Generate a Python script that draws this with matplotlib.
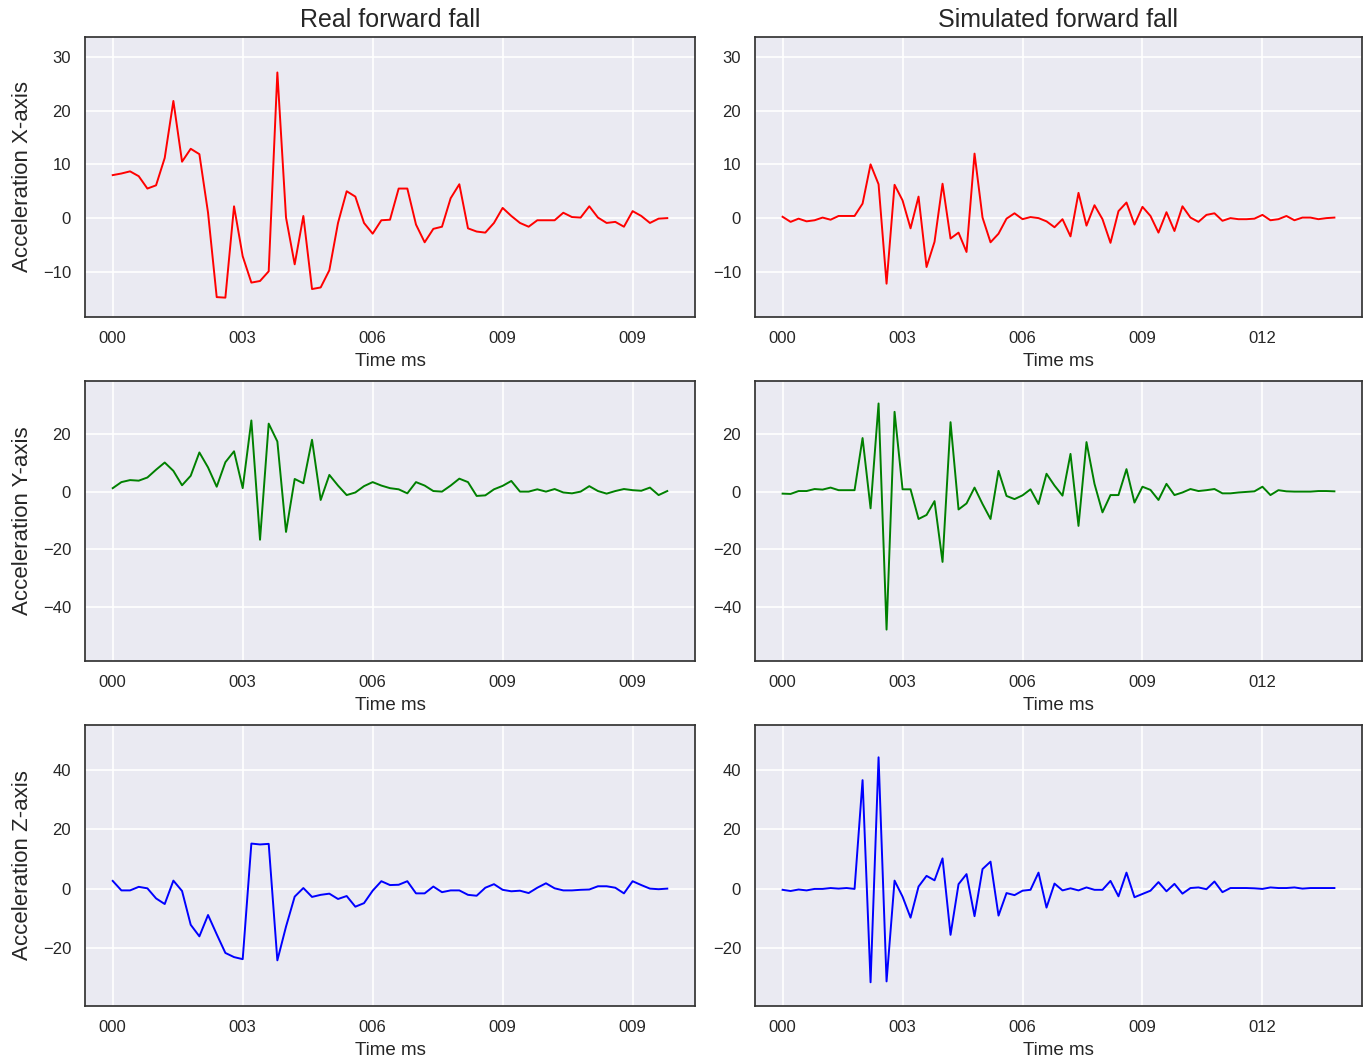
import matplotlib
matplotlib.use("Agg")
import matplotlib.pyplot as plt

# ---------------- data ----------------
real_x = [8.0, 8.3, 8.7, 7.8, 5.5, 6.1, 11.2, 21.8, 10.5, 12.9, 11.9, 1.0, -14.7, -14.8,
          2.2, -7.1, -12.0, -11.7, -9.9, 27.1, 0.1, -8.6, 0.4, -13.2, -12.9, -9.7, -0.9,
          5.0, 4.0, -0.9, -2.9, -0.4, -0.3, 5.5, 5.5, -1.2, -4.5, -2.0, -1.6, 3.7, 6.3,
          -1.9, -2.5, -2.7, -0.9, 1.9, 0.4, -0.9, -1.6, -0.4, -0.4, -0.4, 1.0, 0.2, 0.1,
          2.2, 0.1, -0.9, -0.7, -1.6, 1.3, 0.4, -0.9, -0.1, 0.0]
real_y = [1.2, 3.3, 4.0, 3.8, 4.9, 7.6, 10.1, 7.2, 2.2, 5.5, 13.6, 8.4, 1.7, 10.2, 14.0,
          1.2, 24.7, -16.7, 23.6, 17.4, -14.0, 4.4, 2.9, 18.0, -2.9, 5.8, 2.1, -1.2, -0.3,
          1.9, 3.3, 2.1, 1.2, 0.8, -0.6, 3.3, 2.1, 0.2, 0.0, 2.1, 4.5, 3.3, -1.5, -1.3,
          0.8, 2.0, 3.7, 0.0, 0.0, 0.8, 0.0, 0.9, -0.3, -0.6, 0.0, 1.9, 0.2, -0.7, 0.2,
          0.9, 0.5, 0.3, 1.4, -1.2, 0.2]
real_z = [2.6, -0.6, -0.6, 0.6, 0.1, -3.3, -5.2, 2.7, -0.8, -12.2, -16.1, -8.9, -15.4,
          -21.7, -23.1, -23.8, 15.2, 14.9, 15.1, -24.2, -12.8, -2.7, 0.2, -2.8, -2.1, -1.7,
          -3.5, -2.5, -6.1, -4.9, -0.7, 2.5, 1.2, 1.3, 2.5, -1.6, -1.6, 0.7, -1.2, -0.6,
          -0.6, -2.1, -2.4, 0.3, 1.5, -0.4, -0.9, -0.7, -1.5, 0.3, 1.8, 0.1, -0.6, -0.6,
          -0.4, -0.3, 0.8, 0.8, 0.3, -1.6, 2.5, 1.2, 0.0, -0.2, 0.0]

sim_x = [0.25, -0.7, -0.1, -0.6, -0.4, 0.1, -0.3, 0.4, 0.4, 0.4, 2.7, 10.0, 6.3, -12.2,
         6.2, 3.3, -1.9, 4.0, -9.1, -4.4, 6.4, -3.8, -2.7, -6.3, 12.0, 0.1, -4.5, -2.9,
         -0.1, 0.9, -0.2, 0.2, 0.0, -0.6, -1.7, -0.2, -3.4, 4.7, -1.4, 2.4, -0.2, -4.6,
         1.3, 2.9, -1.2, 2.1, 0.4, -2.7, 1.1, -2.4, 2.2, 0.1, -0.7, 0.6, 0.9, -0.5, 0.0,
         -0.2, -0.2, -0.1, 0.6, -0.4, -0.2, 0.4, -0.4, 0.1, 0.1, -0.2, 0.0, 0.1]
sim_y = [-0.7, -0.8, 0.2, 0.2, 0.9, 0.7, 1.4, 0.5, 0.5, 0.5, 18.6, -5.8, 30.6, -47.9,
         27.7, 0.8, 0.8, -9.5, -8.1, -3.3, -24.4, 24.1, -6.2, -4.1, 1.4, -4.3, -9.5, 7.2,
         -1.5, -2.6, -1.3, 0.8, -4.3, 6.2, 2.1, -1.4, 13.1, -11.9, 17.2, 2.7, -7.2, -1.2,
         -1.2, 7.8, -3.8, 1.7, 0.6, -2.9, 2.7, -1.2, -0.3, 0.9, 0.2, 0.5, 0.9, -0.6, -0.6,
         -0.3, -0.1, 0.1, 1.7, -1.2, 0.5, 0.1, 0.0, 0.0, 0.0, 0.2, 0.2, 0.1]
sim_z = [-0.4, -0.8, -0.3, -0.6, -0.1, -0.1, 0.2, 0.0, 0.2, -0.1, 36.6, -31.6, 44.3, -31.3,
         2.7, -2.7, -9.8, 0.7, 4.3, 2.8, 10.2, -15.6, 1.5, 4.9, -9.3, 6.6, 9.1, -9.1, -1.5,
         -2.2, -0.7, -0.4, 5.4, -6.4, 1.7, -0.6, 0.1, -0.6, 0.4, -0.4, -0.4, 2.6, -2.6, 5.4,
         -2.9, -1.8, -0.7, 2.2, -0.9, 1.6, -1.7, 0.2, 0.4, -0.2, 2.4, -1.2, 0.2, 0.2, 0.2,
         0.1, -0.1, 0.4, 0.2, 0.2, 0.4, 0.0, 0.2, 0.2, 0.2, 0.2]

col_titles = ["Real forward fall", "Simulated forward fall"]
row_labels = ["Acceleration X-axis", "Acceleration Y-axis", "Acceleration Z-axis"]
row_colors = ["red", "green", "blue"]
tick_pos = [0, 15, 30, 45, 60]
real_tick_labels = ["000", "003", "006", "009", "009"]
sim_tick_labels = ["000", "003", "006", "009", "012"]
row_yticks = [[-10, 0, 10, 20, 30], [-40, -20, 0, 20], [-20, 0, 20, 40]]
row_ylims = [(-18.4, 33.7), (-58.8, 38.4), (-39.6, 55.2)]
xlabel = "Time ms"

# ---------------- style ----------------
plt.rcParams.update({
    "font.family": ["Liberation Sans", "DejaVu Sans"],
    "axes.facecolor": "#EAEAF2",
    "axes.edgecolor": "#333333",
    "axes.linewidth": 1.25,
    "grid.color": "white",
    "grid.linewidth": 1.2,
    "text.color": "#262626",
    "axes.labelcolor": "#262626",
    "xtick.color": "#262626",
    "ytick.color": "#262626",
})

W, H = 1363, 1057
fig = plt.figure(figsize=(W / 100, H / 100), dpi=100)

col_px = [(85, 695), (755, 1362)]
row_px = [(37, 317), (381, 661), (725, 1006)]

data = [[real_x, sim_x], [real_y, sim_y], [real_z, sim_z]]
tick_labels = [real_tick_labels, sim_tick_labels]

for r in range(3):
    for c in range(2):
        x0, x1 = col_px[c]
        y0, y1 = row_px[r]
        ax = fig.add_axes([x0 / W, 1 - y1 / H, (x1 - x0) / W, (y1 - y0) / H])
        vals = data[r][c]
        ax.plot(range(len(vals)), vals, color=row_colors[r], linewidth=1.4)
        ax.set_ylim(*row_ylims[r])
        ax.set_yticks(row_yticks[r])
        ax.set_xticks(tick_pos)
        ax.set_xticklabels(tick_labels[c])
        ax.grid(True)
        ax.set_axisbelow(True)
        ax.tick_params(axis="both", length=0, pad=10, labelsize=12)
        ax.set_xlabel(xlabel, fontsize=13.5, labelpad=5)
        if c == 0:
            ax.set_ylabel(row_labels[r], fontsize=16, labelpad=7)
        if r == 0:
            ax.set_title(col_titles[c], fontsize=18, pad=7)

fig.savefig("out.png", dpi=100)
